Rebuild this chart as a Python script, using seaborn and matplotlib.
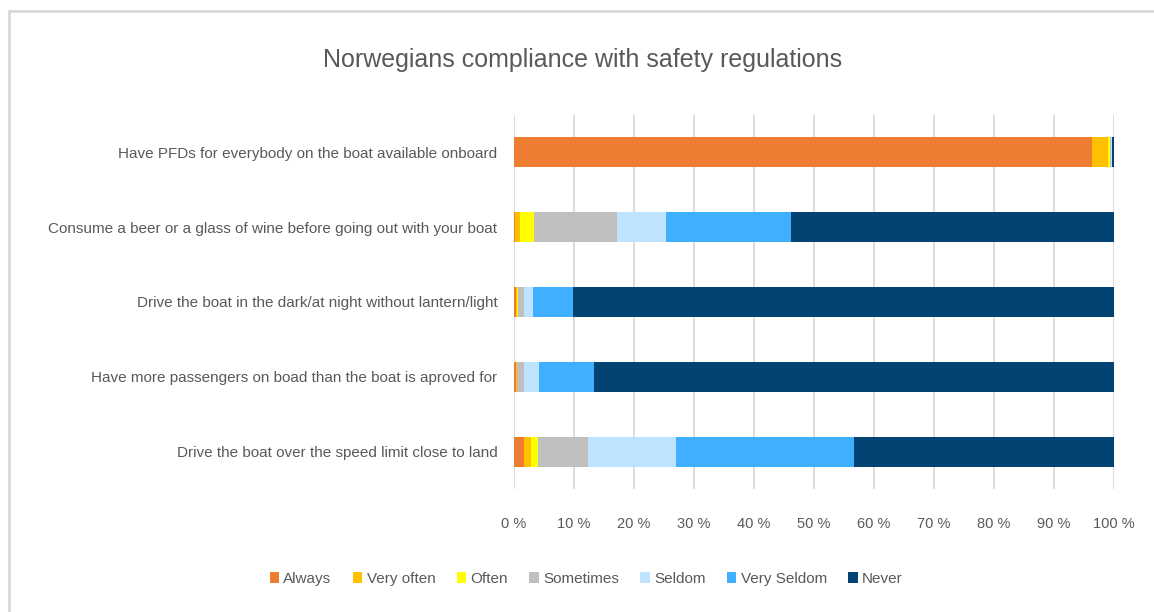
import seaborn as sns
import matplotlib.pyplot as plt
import pandas as pd
from matplotlib.patches import Patch
from matplotlib.lines import Line2D
from matplotlib.ticker import FuncFormatter

# Survey answers, percent of respondents
questions = [
    "Have PFDs for everybody on the boat available onboard",
    "Consume a beer or a glass of wine before going out with your boat",
    "Drive the boat in the dark/at night without lantern/light",
    "Have more passengers on boad than the boat is aproved for",
    "Drive the boat over the speed limit close to land",
]
answers = ["Always", "Very often", "Often", "Sometimes", "Seldom", "Very Seldom", "Never"]
always = [96.3, 0.2, 0.3, 0.4, 1.7]
very_often = [2.7, 0.8, 0.2, 0.1, 1.1]
often = [0.4, 2.3, 0.1, 0.0, 1.2]
sometimes = [0.1, 13.9, 1.0, 1.2, 8.3]
seldom = [0.1, 8.1, 1.5, 2.4, 14.7]
very_seldom = [0.1, 20.9, 6.8, 9.2, 29.7]
never = [0.3, 53.8, 90.1, 86.7, 43.3]
colors = ["#ED7D31", "#FFC000", "#FFFF00", "#BFBFBF", "#BDE3FF", "#41AFFF", "#024373"]

df = pd.DataFrame({"question": questions, "Always": always, "Very often": very_often,
                   "Often": often, "Sometimes": sometimes, "Seldom": seldom,
                   "Very Seldom": very_seldom, "Never": never})

# cumulative sums so each layer can be drawn from the back
cum = df[answers].cumsum(axis=1)
cum["question"] = df["question"]

sns.set_style("white")
plt.rcParams["font.family"] = ["Liberation Sans", "DejaVu Sans"]
text_col = "#595959"

fig = plt.figure(figsize=(11.54, 6.12), dpi=100)
ax = fig.add_axes([514 / 1154, 1 - 489 / 612, 600 / 1154, 374 / 612])

for ans, col in reversed(list(zip(answers, colors))):
    sns.barplot(data=cum, x=ans, y="question", color=col, orient="h",
                width=0.4, linewidth=0, saturation=1, ax=ax, zorder=3)

ax.set_xlim(0, 100)
ax.set_ylim(4.5, -0.5)
ax.set_xticks(range(0, 101, 10))
ax.xaxis.set_major_formatter(FuncFormatter(lambda v, p: f"{v:.0f} %"))
ax.grid(axis="x", color="#D9D9D9", linewidth=1.3, zorder=0)
ax.grid(axis="y", visible=False)
for s in ax.spines.values():
    s.set_visible(False)
ax.set_xlabel("")
ax.set_ylabel("")
ax.tick_params(axis="y", length=0, labelsize=11, colors=text_col, pad=12)
ax.tick_params(axis="x", length=0, labelsize=10.5, colors=text_col, pad=20)

fig.text(0.505, 0.902, "Norwegians compliance with safety regulations",
         ha="center", va="center", fontsize=18, color=text_col)

handles = [Patch(facecolor=c, edgecolor="none", label=a) for a, c in zip(answers, colors)]
fig.legend(handles=handles, loc="center", bbox_to_anchor=(0.508, 0.054), ncol=7,
           frameon=False, fontsize=11, handlelength=0.6, handleheight=0.75,
           handletextpad=0.3, columnspacing=1.4, labelcolor=text_col)

# chart frame (left and top edge visible)
fig.add_artist(Line2D([9 / 1154, 9 / 1154], [0, 1 - 11 / 612], color="#D9D9D9", lw=2,
                      transform=fig.transFigure))
fig.add_artist(Line2D([9 / 1154, 1], [1 - 11 / 612, 1 - 11 / 612], color="#D9D9D9", lw=2,
                      transform=fig.transFigure))

fig.savefig("out.png", dpi=100)
